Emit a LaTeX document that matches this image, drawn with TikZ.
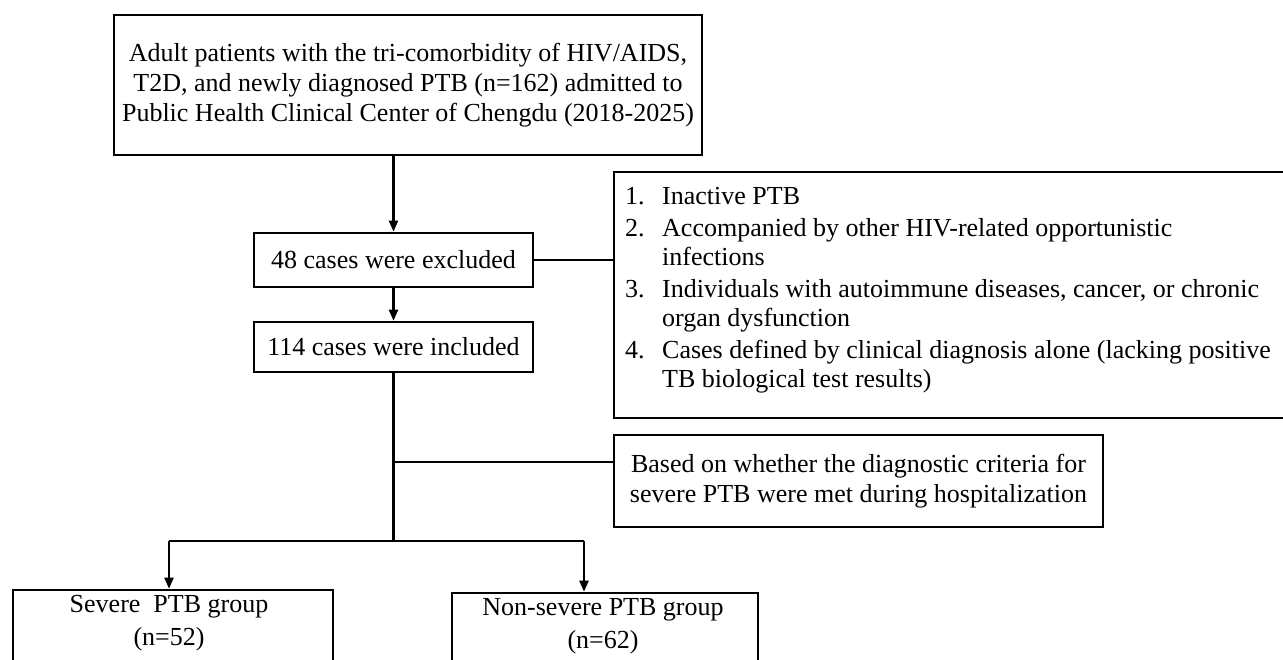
\documentclass[tikz,border=0pt]{standalone}
\usepackage{fontspec}
\setmainfont{Liberation Serif}
\usetikzlibrary{arrows.meta}
\begin{document}
\begin{tikzpicture}[x=1pt,y=-1pt,
  box/.style={draw, line width=2.6pt, inner sep=0pt, align=center, font=\fontsize{26}{30}\selectfont},
  frame/.style={draw, line width=2.6pt, inner sep=0pt},
  txt/.style={inner sep=0pt, font=\fontsize{26}{29}\selectfont},
  conn/.style={line width=2.2pt},
  arr/.style={conn,-{Triangle[length=11pt,width=9pt]}}]
\useasboundingbox (0,0) rectangle (1283,660);
\clip (0,0) rectangle (1283,660);
% top box
\node[box, minimum width=588pt, minimum height=140pt] (top) at (408,85)
  {Adult patients with the tri-comorbidity of HIV/AIDS,\\T2D, and newly diagnosed PTB (n=162) admitted to\\Public Health Clinical Center of Chengdu (2018-2025)};
% exclusion step
\node[box, minimum width=279pt, minimum height=54pt] (n48) at (393.5,260) {48 cases were excluded};
\node[frame, minimum width=686pt, minimum height=246pt] (excl) at (957,295) {};
\node[txt, align=left, anchor=north west] (exclt) at (625,187.5)
  {\makebox[37pt][l]{1.}Inactive PTB\\[3pt]
   \makebox[37pt][l]{2.}Accompanied by other HIV-related opportunistic\\
   \hspace*{37pt}infections\\[3pt]
   \makebox[37pt][l]{3.}Individuals with autoimmune diseases, cancer, or chronic\\
   \hspace*{37pt}organ dysfunction\\[3pt]
   \makebox[37pt][l]{4.}Cases defined by clinical diagnosis alone (lacking positive\\
   \hspace*{37pt}TB biological test results)};
% inclusion
\node[box, minimum width=279pt, minimum height=50pt] (n114) at (393.5,347) {114 cases were included};
% grouping criterion
\node[box, minimum width=489pt, minimum height=92pt] (crit) at (858.5,481)
  {Based on whether the diagnostic criteria for\\severe PTB were met during hospitalization};
% groups
\node[frame, minimum width=320pt, minimum height=100pt] (sev) at (173,640) {};
\node[txt, align=center, anchor=north, font=\fontsize{26}{33}\selectfont] (sevt) at (169,595.5) {Severe~ PTB group\\(n=52)};
\node[frame, minimum width=306pt, minimum height=100pt] (non) at (605,643) {};
\node[txt, align=center, anchor=north, font=\fontsize{26}{33}\selectfont] (nont) at (603,598.5) {Non-severe PTB group\\(n=62)};
% junctions
\coordinate (b) at (393.5,462);
\coordinate (j) at (393.5,541);
\coordinate (jl) at (169,541);
\coordinate (jr) at (584,541);
% connectors
\draw[arr] (top.south -| n48.north) -- (n48.north);
\draw[conn] (n48.east) -- (n48.east -| excl.west);
\draw[arr] (n48.south) -- (n114.north);
\draw[conn] (n114.south) -- (j);
\draw[conn] (b) -- (b -| crit.west);
\draw[conn] (jl) -- (jr);
\draw[arr] (jl) -- (jl |- sev.north);
\draw[arr] (jr) -- (jr |- non.north);
\end{tikzpicture}
\end{document}
